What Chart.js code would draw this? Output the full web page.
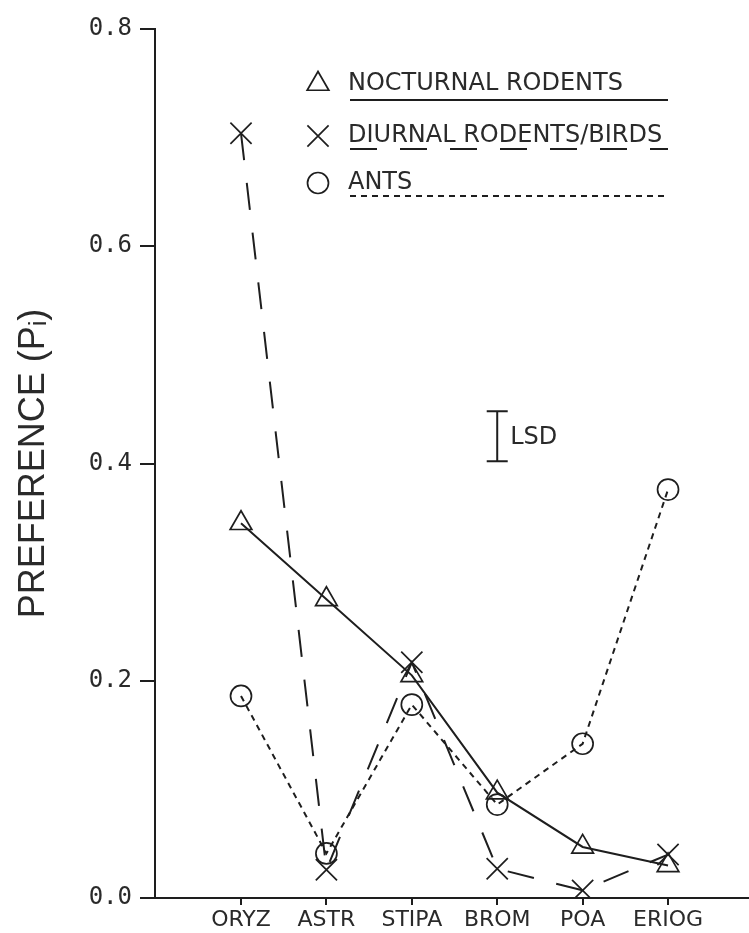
<!DOCTYPE html>
<html>
<head>
<meta charset="utf-8">
<script src="https://cdn.jsdelivr.net/npm/chart.js@4/dist/chart.umd.min.js"></script>
<style>
  html, body { margin: 0; padding: 0; background: #ffffff; }
  #wrap { width: 749px; height: 933px; }
</style>
</head>
<body>
<div id="wrap"><canvas id="c" width="749" height="933"></canvas></div>
<script>
// ---- data ----
const categories = ['ORYZ', 'ASTR', 'STIPA', 'BROM', 'POA', 'ERIOG'];
const nocturnalRodents   = [0.345, 0.275, 0.205, 0.097, 0.047, 0.030];
const diurnalRodentsBirds = [0.704, 0.026, 0.217, 0.027, 0.007, 0.040];
const ants               = [0.186, 0.041, 0.178, 0.086, 0.142, 0.376];
const seriesLabels = ['NOCTURNAL RODENTS', 'DIURNAL RODENTS/BIRDS', 'ANTS'];
const yTickLabels = ['0.0', '0.2', '0.4', '0.6', '0.8'];
const yTitle = 'PREFERENCE (P\u1D62)';
const lsdCategory = 3;
const lsdLow = 0.402;
const lsdHigh = 0.448;
const lsdLabel = 'LSD';

const INK = '#1e1e1e';
const TEXT = '#2a2a2a';

function toPoints(arr) { return arr.map((v, i) => ({ x: i, y: v })); }

const datasets = [
  { label: seriesLabels[0], data: toPoints(nocturnalRodents), borderDash: [],
    pointStyle: 'triangle', pointRadius: 12.5 },
  { label: seriesLabels[1], data: toPoints(diurnalRodentsBirds), borderDash: [27, 23],
    pointStyle: 'crossRot', pointRadius: 15 },
  { label: seriesLabels[2], data: toPoints(ants), borderDash: [6, 5],
    pointStyle: 'circle', pointRadius: 10.5 }
].map(d => Object.assign({
  borderColor: INK, borderWidth: 2, tension: 0, fill: false,
  pointBorderColor: INK, pointBackgroundColor: 'rgba(0,0,0,0)', pointBorderWidth: 1.7,
  pointHoverRadius: 0
}, d));

const legendPlugin = {
  id: 'customLegend',
  afterDraw(chart) {
    const ctx = chart.ctx;
    const rowsY = [84, 136, 183];
    const lineY = [100, 149, 196];
    const markerX = 318, textX = 348, lineX0 = 350, lineX1 = 668;
    chart.data.datasets.forEach((ds, i) => {
      ctx.save();
      ctx.strokeStyle = INK;
      ctx.fillStyle = 'rgba(0,0,0,0)';
      ctx.lineWidth = 1.7;
      Chart.helpers.drawPoint(ctx, { pointStyle: ds.pointStyle, radius: ds.pointRadius, rotation: 0, borderWidth: 1.7 }, markerX, rowsY[i]);
      ctx.restore();
      ctx.save();
      ctx.fillStyle = TEXT;
      ctx.font = '24px "DejaVu Sans"';
      ctx.textBaseline = 'middle';
      ctx.textAlign = 'left';
      ctx.fillText(ds.label, textX, rowsY[i]);
      ctx.strokeStyle = INK;
      ctx.lineWidth = 2;
      ctx.setLineDash(ds.borderDash);
      ctx.beginPath();
      ctx.moveTo(lineX0, lineY[i]);
      ctx.lineTo(lineX1, lineY[i]);
      ctx.stroke();
      ctx.restore();
    });
  },
  afterDatasetsDraw(chart) {
    const ctx = chart.ctx;
    const xs = chart.scales.x, ys = chart.scales.y;
    const x = xs.getPixelForValue(lsdCategory);
    const y0 = ys.getPixelForValue(lsdLow), y1 = ys.getPixelForValue(lsdHigh);
    ctx.save();
    ctx.strokeStyle = INK;
    ctx.lineWidth = 2;
    ctx.beginPath();
    ctx.moveTo(x, y0); ctx.lineTo(x, y1);
    ctx.moveTo(x - 10.5, y0); ctx.lineTo(x + 10.5, y0);
    ctx.moveTo(x - 10.5, y1); ctx.lineTo(x + 10.5, y1);
    ctx.stroke();
    ctx.fillStyle = TEXT;
    ctx.font = '24px "DejaVu Sans"';
    ctx.textBaseline = 'middle';
    ctx.fillText(lsdLabel, x + 13, (y0 + y1) / 2 + 1);
    ctx.restore();
  }
};

new Chart(document.getElementById('c'), {
  type: 'line',
  data: { datasets },
  options: {
    responsive: false,
    animation: false,
    devicePixelRatio: 1,
    layout: { autoPadding: false, padding: { top: 29, left: 0, right: 0, bottom: 0 } },
    plugins: { legend: { display: false }, tooltip: { enabled: false } },
    scales: {
      x: {
        type: 'linear',
        min: -1.007,
        max: 5.948,
        afterBuildTicks(scale) { scale.ticks = categories.map((c, i) => ({ value: i })); },
        afterFit(scale) { scale.height = 35; scale.paddingLeft = 0; scale.paddingRight = 0; },
        border: { display: true, color: INK, width: 2 },
        grid: { drawOnChartArea: false, drawTicks: true, tickLength: 7, color: INK, lineWidth: 2 },
        ticks: {
          autoSkip: false, maxRotation: 0, padding: 2, color: TEXT,
          font: { family: 'DejaVu Sans', size: 22 },
          callback: (v) => categories[v]
        }
      },
      y: {
        min: 0,
        max: 0.8,
        afterBuildTicks(scale) { scale.ticks = yTickLabels.map((t, i) => ({ value: i * 0.2 })); },
        afterFit(scale) { scale.width = 155; scale.paddingTop = 0; scale.paddingBottom = 0; },
        border: { display: true, color: INK, width: 2 },
        grid: { drawOnChartArea: false, drawTicks: true, tickLength: 15, color: INK, lineWidth: 2 },
        ticks: {
          padding: 8, color: TEXT,
          font: { family: 'DejaVu Sans Mono', size: 24 },
          callback: (v, i) => yTickLabels[i]
        },
        title: {
          display: true, text: yTitle, color: TEXT,
          font: { family: 'Liberation Sans', size: 36 },
          padding: { top: 12, bottom: 0 }
        }
      }
    }
  },
  plugins: [legendPlugin]
});
</script>
</body>
</html>
